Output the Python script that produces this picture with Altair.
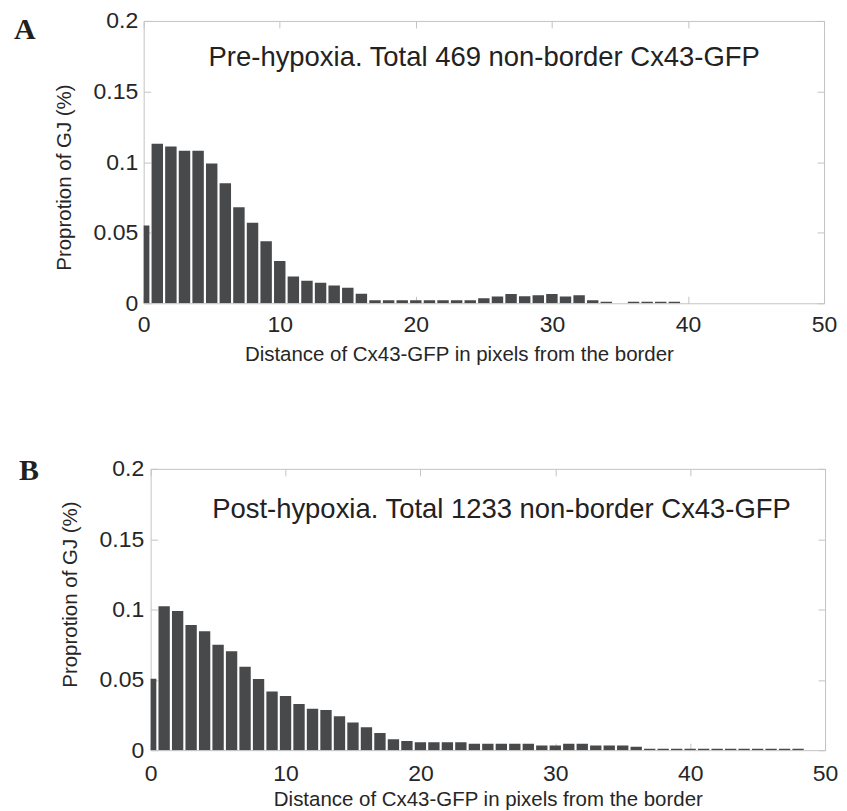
import altair as alt
import pandas as pd

positions = list(range(50))

pre_values = [0.055, 0.113, 0.111, 0.108, 0.108, 0.099, 0.085, 0.068, 0.057, 0.044,
              0.030, 0.019, 0.016, 0.0145, 0.0125, 0.011, 0.0067, 0.0021, 0.0021, 0.0021,
              0.0021, 0.0021, 0.0021, 0.0021, 0.0021, 0.0035, 0.0047, 0.0066, 0.005, 0.0057,
              0.0066, 0.0047, 0.0057, 0.0021, 0.001, 0.0, 0.001, 0.001, 0.001, 0.001,
              0.0, 0.0, 0.0, 0.0, 0.0, 0.0, 0.0, 0.0, 0.0, 0.0]

post_values = [0.0508, 0.1023, 0.099, 0.089, 0.0846, 0.075, 0.0704, 0.0593, 0.0506, 0.0418,
               0.0385, 0.0328, 0.0295, 0.0286, 0.0241, 0.0196, 0.0163, 0.0122, 0.0078, 0.0066,
               0.0057, 0.0057, 0.0057, 0.0057, 0.0045, 0.0045, 0.0045, 0.0045, 0.0045, 0.0033,
               0.0033, 0.0045, 0.0045, 0.0033, 0.0033, 0.0033, 0.0024, 0.0011, 0.0011, 0.0011,
               0.0011, 0.0011, 0.0011, 0.0011, 0.0011, 0.0011, 0.0011, 0.0011, 0.0011, 0.0]

x_ticks = [0, 10, 20, 30, 40, 50]
y_ticks = [0, 0.05, 0.1, 0.15, 0.2]

x_title = "Distance of Cx43-GFP in pixels from the border"
y_title = "Proprotion of GJ (%)"

BAR_COLOR = "#48494b"
GREY = "#c4c4c4"


def make_panel(values, width, height, letter, letter_x, letter_y, note, note_x, note_y,
               title_x, title_y, xlab_pad, ylab_pad, xtitle_pad, ytitle_pad):
    df = pd.DataFrame({"pos": positions, "val": values})
    xs = alt.Scale(domain=[0, 50], nice=False, zero=False)
    ys = alt.Scale(domain=[0, 0.2], nice=False)
    base = alt.Chart(df).transform_calculate(lo="datum.pos - 0.42", hi="datum.pos + 0.42")

    bars = base.mark_bar(color=BAR_COLOR, clip=True).encode(
        x=alt.X("lo:Q", scale=xs, axis=alt.Axis(
            orient="bottom", values=x_ticks, format="d", offset=-7, tickSize=7,
            domain=False, grid=False, labelPadding=xlab_pad, labelFlush=False,
            title=x_title, titleX=title_x, titlePadding=xtitle_pad)),
        x2="hi:Q",
        y=alt.Y("val:Q", scale=ys, axis=alt.Axis(
            orient="left", values=y_ticks, format="~g", offset=-7, tickSize=7,
            domain=False, grid=False, labelPadding=ylab_pad, labelFlush=False,
            title=y_title, titleY=title_y, titlePadding=ytitle_pad)),
        y2=alt.datum(0),
    )

    frame = base.mark_bar(opacity=0).encode(
        x=alt.X("lo:Q", scale=xs, axis=alt.Axis(
            orient="top", values=x_ticks, labels=False, offset=-7, tickSize=7,
            domain=False, grid=False, title=None)),
        x2="hi:Q",
        y=alt.Y("val:Q", scale=ys, axis=alt.Axis(
            orient="right", values=y_ticks, labels=False, offset=-7, tickSize=7,
            domain=False, grid=False, title=None)),
        y2=alt.datum(0),
    )

    note_df = pd.DataFrame({"x": [note_x], "y": [note_y], "t": [note]})
    text = alt.Chart(note_df).mark_text(
        align="left", baseline="alphabetic", font="Liberation Sans", fontSize=27.5,
        color="#222222").encode(
        x=alt.X("x:Q", scale=xs, axis=None),
        y=alt.Y("y:Q", scale=ys, axis=None),
        text="t:N",
    )

    letter_df = pd.DataFrame({"t": [letter]})
    lab = alt.Chart(letter_df).mark_text(
        align="left", baseline="alphabetic", font="Liberation Serif", fontWeight="bold",
        fontSize=30, color="#231f20").encode(
        x=alt.value(letter_x), y=alt.value(letter_y), text="t:N")

    return alt.layer(bars, frame, text, lab).resolve_axis(
        x="independent", y="independent").properties(width=width, height=height)


def spacer():
    return alt.Chart(pd.DataFrame({"t": [""]})).mark_point(opacity=0, size=1).properties(
        width=1, height=1, view=alt.ViewBackground(strokeOpacity=0))


panel_a = make_panel(pre_values, 682, 283, "A", -130, 18,
                     "Pre-hypoxia. Total 469 non-border Cx43-GFP", 4.77, 0.168,
                     316, 156.5, 10, 6, 8, 19)
panel_b = make_panel(post_values, 676, 282, "B", -132, 11,
                     "Post-hypoxia. Total 1233 non-border Cx43-GFP", 4.56, 0.1652,
                     338, 125.5, 12, 7, 4, 19)

chart = alt.vconcat(
    alt.hconcat(spacer(), panel_a, spacing=0),
    alt.hconcat(spacer(), panel_b, spacing=5),
    spacing=90,
).properties(
    padding={"left": 4, "top": 0, "right": 0, "bottom": 0}
).configure_view(
    stroke=GREY, strokeWidth=1
).configure_axis(
    labelFont="Liberation Sans", labelFontSize=23, labelColor="#262626",
    titleFont="Liberation Sans", titleFontSize=20.5, titleFontWeight="normal",
    titleColor="#262626", tickColor=GREY, tickWidth=1
)

chart.save("out.html", embed_options={"renderer": "svg", "actions": False})
